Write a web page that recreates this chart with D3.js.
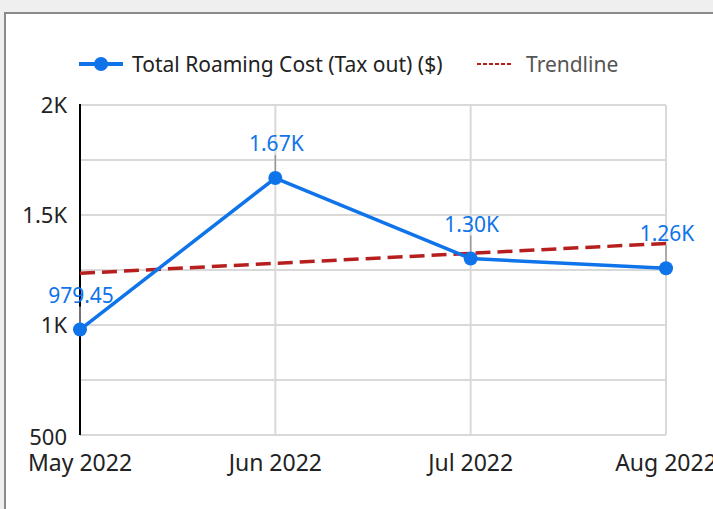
<!DOCTYPE html>
<html lang="en">
<head>
<meta charset="UTF-8">
<title>Total Roaming Cost</title>
<style>
  body { margin: 0; overflow: hidden; background: #efefef; }
  svg  { display: block; }
  text { font-family: "Noto Sans", "Open Sans", sans-serif; }
  .tick-label { font-size: 22px; fill: #222; }
  .x-label    { font-size: 23px; }
  .data-label { font-size: 21px; fill: #0f74ea; text-anchor: middle; }
  .legend     { font-size: 21px; }
</style>
</head>
<body>
<svg id="chart" width="713" height="509"></svg>

<script src="https://d3js.org/d3.v7.min.js"></script>
<script>
/* ---------------- Data ---------------- */
const months     = ['May 2022', 'Jun 2022', 'Jul 2022', 'Aug 2022'];
const totalCost  = [979.45, 1668, 1302, 1258];
const trendEnds  = [1235, 1371];          // trendline at first / last month
const yTicks     = [500, 1000, 1500, 2000];
const yGrid      = [500, 750, 1000, 1250, 1500, 1750, 2000];
const seriesName = 'Total Roaming Cost (Tax out) ($)';
const trendName  = 'Trendline';

/* ---------------- Constants ---------------- */
const BLUE = '#0f74ea', RED = '#b71f1f', GRID = '#d9d9d9';

const svg = d3.select('#chart');

// white panel with grey frame
svg.append('rect')
  .attr('x', 5).attr('y', 13).attr('width', 720).attr('height', 510)
  .attr('fill', '#fff').attr('stroke', '#8a8a8a').attr('stroke-width', 2);

/* ---------------- Scales ---------------- */
const x = d3.scalePoint().domain(months).range([80, 666]);
const y = d3.scaleLinear().domain([500, 2000]).range([435, 105]);

const fmt = v => v >= 1000 ? (v / 1000).toFixed(2) + 'K' : d3.format('.2f')(v);
const tickFmt = v => v >= 1000 ? (v / 1000) + 'K' : String(v);

/* ---------------- Grid ---------------- */
const grid = svg.append('g').attr('stroke', GRID).attr('stroke-width', 2);
grid.selectAll('line.h')
  .data(yGrid)
  .enter().append('line')
    .attr('x1', x.range()[0]).attr('x2', x.range()[1])
    .attr('y1', d => y(d)).attr('y2', d => y(d));
grid.selectAll('line.v')
  .data(months.slice(1))
  .enter().append('line')
    .attr('x1', d => x(d)).attr('x2', d => x(d))
    .attr('y1', y.range()[1]).attr('y2', y.range()[0]);

// left axis line
svg.append('line')
  .attr('x1', 80).attr('x2', 80)
  .attr('y1', y(2000) - 1).attr('y2', y(500))
  .attr('stroke', '#000').attr('stroke-width', 2);

/* ---------------- Axis labels ---------------- */
svg.append('g').selectAll('text')
  .data(yTicks)
  .enter().append('text')
    .attr('class', 'tick-label')
    .attr('x', 67)
    .attr('y', d => y(d) + (d === 500 ? 10 : 8))
    .attr('text-anchor', 'end')
    .text(tickFmt);

svg.append('g').selectAll('text')
  .data(months)
  .enter().append('text')
    .attr('class', 'tick-label x-label')
    .attr('x', d => x(d))
    .attr('y', 471)
    .attr('text-anchor', 'middle')
    .text(d => d);

/* ---------------- Trendline ---------------- */
svg.append('line')
  .attr('x1', x(months[0])).attr('y1', y(trendEnds[0]))
  .attr('x2', x(months[months.length - 1])).attr('y2', y(trendEnds[1]))
  .attr('stroke', RED).attr('stroke-width', 3.5)
  .attr('stroke-dasharray', '15,7');

/* ---------------- Series ---------------- */
const pts = months.map((m, i) => ({ m, v: totalCost[i] }));

// annotation stems
svg.append('g').selectAll('line')
  .data(pts)
  .enter().append('line')
    .attr('x1', d => x(d.m)).attr('x2', d => x(d.m))
    .attr('y1', d => y(d.v) - 23).attr('y2', d => y(d.v))
    .attr('stroke', '#999').attr('stroke-width', 1.5);

svg.append('path')
  .datum(pts)
  .attr('fill', 'none')
  .attr('stroke', BLUE).attr('stroke-width', 3.5)
  .attr('stroke-linejoin', 'round')
  .attr('d', d3.line().x(d => x(d.m)).y(d => y(d.v)));

svg.append('g').selectAll('circle')
  .data(pts)
  .enter().append('circle')
    .attr('cx', d => x(d.m)).attr('cy', d => y(d.v))
    .attr('r', 7).attr('fill', BLUE);

svg.append('g').selectAll('text')
  .data(pts)
  .enter().append('text')
    .attr('class', 'data-label')
    .attr('x', d => x(d.m) + 1)
    .attr('y', d => y(d.v) - 27)
    .text(d => fmt(d.v));

/* ---------------- Legend ---------------- */
const lg = svg.append('g').attr('class', 'legend');
lg.append('line')
  .attr('x1', 79).attr('x2', 123).attr('y1', 64).attr('y2', 64)
  .attr('stroke', BLUE).attr('stroke-width', 4);
lg.append('circle').attr('cx', 101).attr('cy', 64).attr('r', 7).attr('fill', BLUE);
lg.append('text').attr('x', 132).attr('y', 72).attr('fill', '#222').text(seriesName);

lg.append('line')
  .attr('x1', 477).attr('x2', 513).attr('y1', 64).attr('y2', 64)
  .attr('stroke', RED).attr('stroke-width', 2).attr('stroke-dasharray', '4,2');
lg.append('text').attr('x', 526).attr('y', 72).attr('fill', '#555').text(trendName);
</script>
</body>
</html>
